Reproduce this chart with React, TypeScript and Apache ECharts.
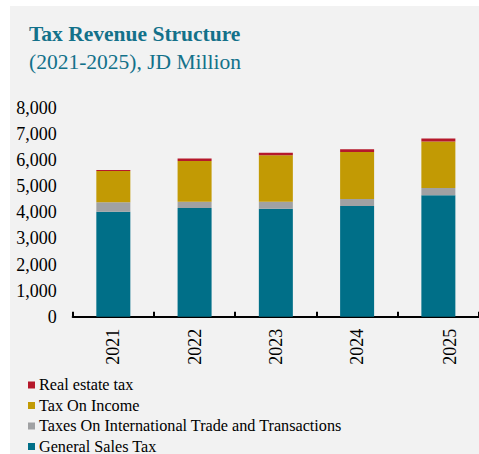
import React, { useEffect, useRef } from "react";
import * as echarts from "echarts";

const years = ["2021", "2022", "2023", "2024", "2025"];
const generalSalesTax = [4023, 4165, 4138, 4241, 4651];
const intlTradeTax = [360, 241, 268, 269, 280];
const incomeTax = [1200, 1560, 1778, 1800, 1789];
const realEstateTax = [40, 103, 100, 104, 115];
const yTicks = { min: 0, max: 8000, interval: 1000 };

const FONT = "'Liberation Serif', 'Times New Roman', serif";

export default function App() {
  const ref = useRef<HTMLDivElement>(null);
  useEffect(() => {
    if (!ref.current) return;
    const chart = echarts.init(ref.current, null, { renderer: "svg" });
    chart.setOption({
      animation: false,
      backgroundColor: "#ffffff",
      graphic: [
        {
          type: "rect",
          z: -10,
          shape: { x: 10, y: 6, width: 480, height: 460 },
          style: { fill: "#f2f2f2" },
          silent: true,
        },
      ],
      title: {
        left: 29,
        top: 21,
        text: "Tax Revenue Structure",
        subtext: "(2021-2025), JD Million",
        itemGap: 3,
        padding: 0,
        textStyle: {
          fontFamily: FONT,
          fontSize: 21.5,
          lineHeight: 25,
          fontWeight: "bold",
          color: "#13718a",
        },
        subtextStyle: {
          fontFamily: FONT,
          fontSize: 21.5,
          lineHeight: 25,
          color: "#13718a",
        },
      },
      legend: {
        orient: "vertical",
        left: 28,
        top: 377,
        height: 120,
        padding: 0,
        itemWidth: 7,
        itemHeight: 7,
        itemGap: 4.5,
        icon: "rect",
        data: [
          "Real estate tax",
          "Tax On Income",
          "Taxes On International Trade and Transactions",
          "General Sales Tax",
        ],
        textStyle: {
          fontFamily: FONT,
          fontSize: 16.2,
          lineHeight: 16,
          color: "#000000",
          padding: [0, 0, 0, -1],
        },
      },
      grid: {
        left: 72.7,
        right: -12,
        top: 108,
        bottom: 137.3,
        containLabel: false,
      },
      xAxis: {
        type: "category",
        data: years,
        axisLine: { lineStyle: { color: "#000000", width: 2 } },
        axisTick: {
          show: true,
          inside: true,
          length: 5,
          lineStyle: { color: "#000000", width: 2 },
        },
        axisLabel: {
          rotate: 90,
          margin: 12,
          fontFamily: FONT,
          fontSize: 18,
          color: "#000000",
          formatter: (v: string, i: number) =>
            i === years.length - 1 ? `{sp| }{last|${v}}` : v,
          rich: {
            sp: { fontFamily: FONT, fontSize: 18, lineHeight: 42 },
            last: {
              fontFamily: FONT,
              fontSize: 18,
              lineHeight: 20,
              verticalAlign: "bottom",
              color: "#000000",
            },
          },
        },
      },
      yAxis: {
        type: "value",
        min: yTicks.min,
        max: yTicks.max,
        interval: yTicks.interval,
        axisLine: { show: false },
        axisTick: { show: false },
        splitLine: { show: false },
        axisLabel: {
          margin: 16,
          fontFamily: FONT,
          fontSize: 18,
          color: "#000000",
          formatter: (v: number) => v.toLocaleString("en-US"),
        },
      },
      series: [
        {
          name: "General Sales Tax",
          type: "bar",
          stack: "t",
          barWidth: 34,
          data: generalSalesTax,
          itemStyle: { color: "#006f88" },
        },
        {
          name: "Taxes On International Trade and Transactions",
          type: "bar",
          stack: "t",
          data: intlTradeTax,
          itemStyle: { color: "#a0a1a3" },
        },
        {
          name: "Tax On Income",
          type: "bar",
          stack: "t",
          data: incomeTax,
          itemStyle: { color: "#c29a04" },
        },
        {
          name: "Real estate tax",
          type: "bar",
          stack: "t",
          data: realEstateTax,
          itemStyle: { color: "#b5182b" },
        },
      ],
    });
    return () => chart.dispose();
  }, []);
  return (
    <div
      ref={ref}
      style={{ position: "fixed", left: 0, top: 0, width: 479, height: 454 }}
    />
  );
}
